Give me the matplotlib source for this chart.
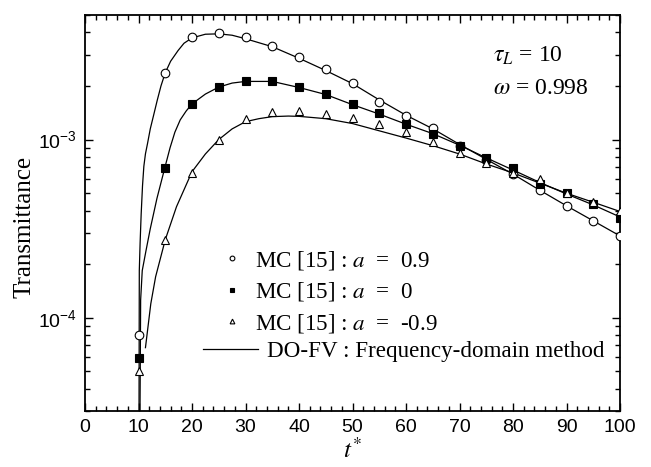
import numpy as np
import matplotlib
matplotlib.use('Agg')
import matplotlib.pyplot as plt
from matplotlib.ticker import MultipleLocator, LogLocator, NullFormatter
from matplotlib.lines import Line2D

plt.rcParams['font.family'] = 'Liberation Sans'
plt.rcParams['mathtext.fontset'] = 'stix'

SERIF = 'Liberation Serif'

# MC [15] points
t_mc = [10, 15, 20, 25, 30, 35, 40, 45, 50, 55, 60, 65, 70, 75, 80, 85, 90, 95, 100]
mc_a09 = [8.0e-5, 2.37e-3, 3.74e-3, 3.97e-3, 3.74e-3, 3.34e-3, 2.89e-3, 2.50e-3, 2.09e-3, 1.63e-3,
          1.35e-3, 1.16e-3, 9.25e-4, 7.7e-4, 6.42e-4, 5.21e-4, 4.26e-4, 3.51e-4, 2.89e-4]
mc_a0 = [5.98e-5, 6.9e-4, 1.58e-3, 1.96e-3, 2.13e-3, 2.13e-3, 1.96e-3, 1.80e-3, 1.58e-3, 1.41e-3,
         1.22e-3, 1.08e-3, 9.25e-4, 7.89e-4, 6.9e-4, 5.64e-4, 5.0e-4, 4.35e-4, 3.63e-4]
mc_am09 = [5.04e-5, 2.74e-4, 6.5e-4, 1.0e-3, 1.30e-3, 1.42e-3, 1.44e-3, 1.40e-3, 1.32e-3, 1.22e-3,
           1.10e-3, 9.66e-4, 8.38e-4, 7.36e-4, 6.5e-4, 6.01e-4, 5.04e-4, 4.47e-4, 3.96e-4]

# DO-FV curves
t_fv_a09 = [10.0, 10.15, 10.3, 10.5, 10.75, 11.0, 11.3, 11.7, 12.2, 12.8, 13.5, 14.2, 15, 16,
            17.4, 18.5, 20, 22.5, 25, 27.5, 30, 35, 40, 45, 50, 55, 60, 65, 70, 75, 80, 85,
            90, 95, 100]
fv_a09 = [1e-6, 1.84e-4, 2.63e-4, 3.83e-4, 5.5e-4, 7.08e-4, 8.32e-4, 9.55e-4, 1.148e-3, 1.36e-3,
          1.66e-3, 2.0e-3, 2.37e-3, 2.75e-3, 3.16e-3, 3.47e-3, 3.72e-3, 3.9e-3, 3.92e-3, 3.85e-3,
          3.68e-3, 3.32e-3, 2.86e-3, 2.44e-3, 2.06e-3, 1.67e-3, 1.37e-3, 1.15e-3, 9.4e-4,
          7.75e-4, 6.4e-4, 5.2e-4, 4.25e-4, 3.5e-4, 2.88e-4]

t_fv_a0 = [10.0, 10.4, 10.7, 11.4, 12.2, 13.45, 15, 15.9, 16.8, 17.8, 18.9, 20, 22.5, 25, 27.5,
           30, 35, 40, 45, 50, 55, 60, 65, 70, 75, 80, 85, 90, 95, 100]
fv_a0 = [1e-6, 1.26e-4, 1.84e-4, 2.38e-4, 3.16e-4, 4.68e-4, 7.1e-4, 9.0e-4, 1.1e-3, 1.29e-3,
         1.445e-3, 1.585e-3, 1.8e-3, 1.97e-3, 2.075e-3, 2.12e-3, 2.12e-3, 1.96e-3, 1.79e-3,
         1.57e-3, 1.39e-3, 1.22e-3, 1.08e-3, 9.3e-4, 7.9e-4, 6.75e-4, 5.75e-4, 4.95e-4, 4.3e-4,
         3.68e-4]

t_fv_am09 = [11.3, 12.3, 13.2, 15, 17.1, 20, 22.5, 25, 27.5, 30, 32.5, 35, 38, 40, 45, 50, 55,
             60, 65, 70, 75, 80, 85, 90, 95, 100]
fv_am09 = [6.8e-5, 1.2e-4, 1.7e-4, 2.74e-4, 4.2e-4, 6.6e-4, 8.3e-4, 1.0e-3, 1.148e-3, 1.26e-3,
           1.31e-3, 1.345e-3, 1.355e-3, 1.35e-3, 1.31e-3, 1.23e-3, 1.12e-3, 1.02e-3, 9.25e-4,
           8.3e-4, 7.3e-4, 6.5e-4, 5.7e-4, 5.0e-4, 4.45e-4, 3.95e-4]

fig = plt.figure(figsize=(6.51, 4.67), dpi=100)
ax = fig.add_axes([85/651, 1 - 411/467, 535/651, 396/467])

# curves
for tt, yy in [(t_fv_a09, fv_a09), (t_fv_a0, fv_a0), (t_fv_am09, fv_am09)]:
    ax.plot(tt, yy, color='black', lw=0.9, zorder=2)

ms = 6.2
ax.plot(t_mc, mc_a09, ls='none', marker='o', ms=ms, mfc='white', mec='black', mew=0.8, zorder=3)
ax.plot(t_mc, mc_a0, ls='none', marker='s', ms=5.2, mfc='black', mec='black', mew=0.8, zorder=3)
ax.plot(t_mc, mc_am09, ls='none', marker='^', ms=ms, mfc='white', mec='black', mew=0.8, zorder=3)

ax.set_yscale('log')
ax.set_xlim(0, 100)
ax.set_ylim(3e-5, 5e-3)
ax.xaxis.set_major_locator(MultipleLocator(10))
ax.xaxis.set_minor_locator(MultipleLocator(2))
ax.yaxis.set_major_locator(LogLocator(base=10))
ax.yaxis.set_minor_locator(LogLocator(base=10, subs=np.arange(2, 10)))
ax.yaxis.set_minor_formatter(NullFormatter())

ax.tick_params(which='both', direction='in', top=True, right=True, width=1.0)
ax.tick_params(which='major', length=6, labelsize=14, pad=6)
ax.tick_params(which='minor', length=3.5)
for sp in ax.spines.values():
    sp.set_linewidth(1.3)

ax.set_xlabel(r'$t^{*}$', fontsize=18, labelpad=1)
ax.set_ylabel('Transmittance', fontsize=18, family=SERIF)
ax.yaxis.set_label_coords(-0.092, 0.465)

# annotation
ax.text(0.7626, 0.881, r'$\tau_L$ = 10', transform=ax.transAxes, fontsize=17, family=SERIF,
        ha='left', va='baseline')
ax.text(0.7626, 0.8005, r'$\omega$ = 0.998', transform=ax.transAxes, fontsize=17, family=SERIF,
        ha='left', va='baseline')

# legend: markers and the line are in two separate legends, like the original
leg_fs = 16.6
mk_handles = [
    Line2D([], [], ls='none', marker='o', ms=ms, mfc='white', mec='black', mew=0.8),
    Line2D([], [], ls='none', marker='s', ms=5.2, mfc='black', mec='black', mew=0.8),
    Line2D([], [], ls='none', marker='^', ms=ms, mfc='white', mec='black', mew=0.8),
]
mk_labels = [r'MC [15] : $a$  =  0.9', r'MC [15] : $a$  =  0', r'MC [15] : $a$  =  -0.9']
leg1 = ax.legend(mk_handles, mk_labels, loc='center left', bbox_to_anchor=(0.2527, 0.3013),
                 frameon=False, prop={'family': SERIF, 'size': leg_fs}, markerscale=0.55,
                 handlelength=1.0, handletextpad=0.51, labelspacing=0.37,
                 borderpad=0, borderaxespad=0)
ax.add_artist(leg1)
ln_handle = [Line2D([], [], color='black', lw=0.9)]
ax.legend(ln_handle, ['DO-FV : Frequency-domain method'], loc='center left',
          bbox_to_anchor=(0.2206, 0.1497), frameon=False, prop={'family': SERIF, 'size': leg_fs},
          handlelength=2.385, handletextpad=0.377, borderpad=0, borderaxespad=0)

fig.savefig('out.png', dpi=100)
